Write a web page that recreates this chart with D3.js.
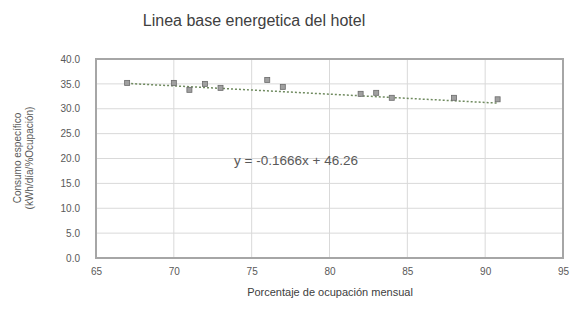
<!DOCTYPE html>
<html><head><meta charset="utf-8">
<script src="https://cdn.jsdelivr.net/npm/d3@7"></script>
<style>body{margin:0;background:#fff;}svg{display:block;font-family:"Liberation Sans",Arial,sans-serif;}</style>
</head><body><svg id="c" width="573" height="317"></svg>
<script>
const occupancy = [67, 70, 71, 72, 73, 76, 77, 82, 83, 84, 88, 90.8];
const consumption = [35.2, 35.2, 33.8, 35.0, 34.2, 35.8, 34.4, 33.0, 33.2, 32.2, 32.2, 31.9];
const xTicks = [65, 70, 75, 80, 85, 90, 95];
const yTicks = [0, 5, 10, 15, 20, 25, 30, 35, 40];
const slope = -0.1666, intercept = 46.26;
const titleText = "Linea base energetica del hotel";
const xTitle = "Porcentaje de ocupación mensual";
const yTitle = ["Consumo específico", "(kWh/día/%Ocupación)"];
const eqText = "y = -0.1666x + 46.26";

const svg = d3.select("#c");
const L = 96, R = 563, T = 59, B = 258;
const x = d3.scaleLinear().domain([65, 95]).range([L, R]);
const y = d3.scaleLinear().domain([0, 40]).range([B, T]);

// gridlines
svg.append("g").selectAll("line").data(yTicks).join("line")
  .attr("x1", L).attr("x2", R).attr("y1", d => y(d)).attr("y2", d => y(d))
  .attr("stroke", "#d9d9d9").attr("stroke-width", 1);
svg.append("g").selectAll("line").data(xTicks).join("line")
  .attr("y1", T).attr("y2", B).attr("x1", d => x(d)).attr("x2", d => x(d))
  .attr("stroke", "#d9d9d9").attr("stroke-width", 1);

// plot border
svg.append("rect").attr("x", L).attr("y", T).attr("width", R - L).attr("height", B - T)
  .attr("fill", "none").attr("stroke", "#a6a6a6").attr("stroke-width", 2);

// axes labels
const xAxis = d3.axisBottom(x).tickValues(xTicks).tickSize(0).tickPadding(10).tickFormat(d3.format("d"));
const gx = svg.append("g").attr("transform", `translate(0,${B})`).call(xAxis);
gx.select(".domain").remove();
gx.selectAll("text").attr("fill", "#595959").style("font-size", "10px");

const yAxis = d3.axisLeft(y).tickValues(yTicks).tickSize(0).tickPadding(16).tickFormat(d3.format(".1f"));
const gy = svg.append("g").attr("transform", `translate(${L},0)`).call(yAxis);
gy.select(".domain").remove();
gy.selectAll("text").attr("fill", "#595959").style("font-size", "10px");

// trendline
const xmin = d3.min(occupancy), xmax = d3.max(occupancy);
svg.append("line")
  .attr("x1", x(xmin)).attr("y1", y(slope * xmin + intercept))
  .attr("x2", x(xmax)).attr("y2", y(slope * xmax + intercept))
  .attr("stroke", "#6f8a5f").attr("stroke-width", 1.5).attr("stroke-dasharray", "2,2");

// points
svg.append("g").selectAll("rect").data(occupancy.map((o, i) => [o, consumption[i]])).join("rect")
  .attr("x", d => x(d[0]) - 2.5).attr("y", d => y(d[1]) - 2.5)
  .attr("width", 5).attr("height", 5)
  .attr("fill", "#a0a0a0").attr("stroke", "#6a6a6a").attr("stroke-width", 0.8);

// equation
svg.append("text").attr("x", 296).attr("y", 165).attr("text-anchor", "middle")
  .attr("fill", "#595959").style("font-size", "13.5px").text(eqText);

// title
svg.append("text").attr("x", 254).attr("y", 26).attr("text-anchor", "middle")
  .attr("fill", "#404040").style("font-size", "16px").text(titleText);

// x title
svg.append("text").attr("x", 330).attr("y", 296).attr("text-anchor", "middle")
  .attr("fill", "#404040").style("font-size", "11px").text(xTitle);

// y title
const yt = svg.append("text").attr("transform", `translate(0,158) rotate(-90)`)
  .attr("text-anchor", "middle").attr("fill", "#595959").style("font-size", "10px");
yt.append("tspan").attr("x", 0).attr("y", 21).text(yTitle[0]);
yt.append("tspan").attr("x", 0).attr("y", 33).text(yTitle[1]);
</script></body></html>
